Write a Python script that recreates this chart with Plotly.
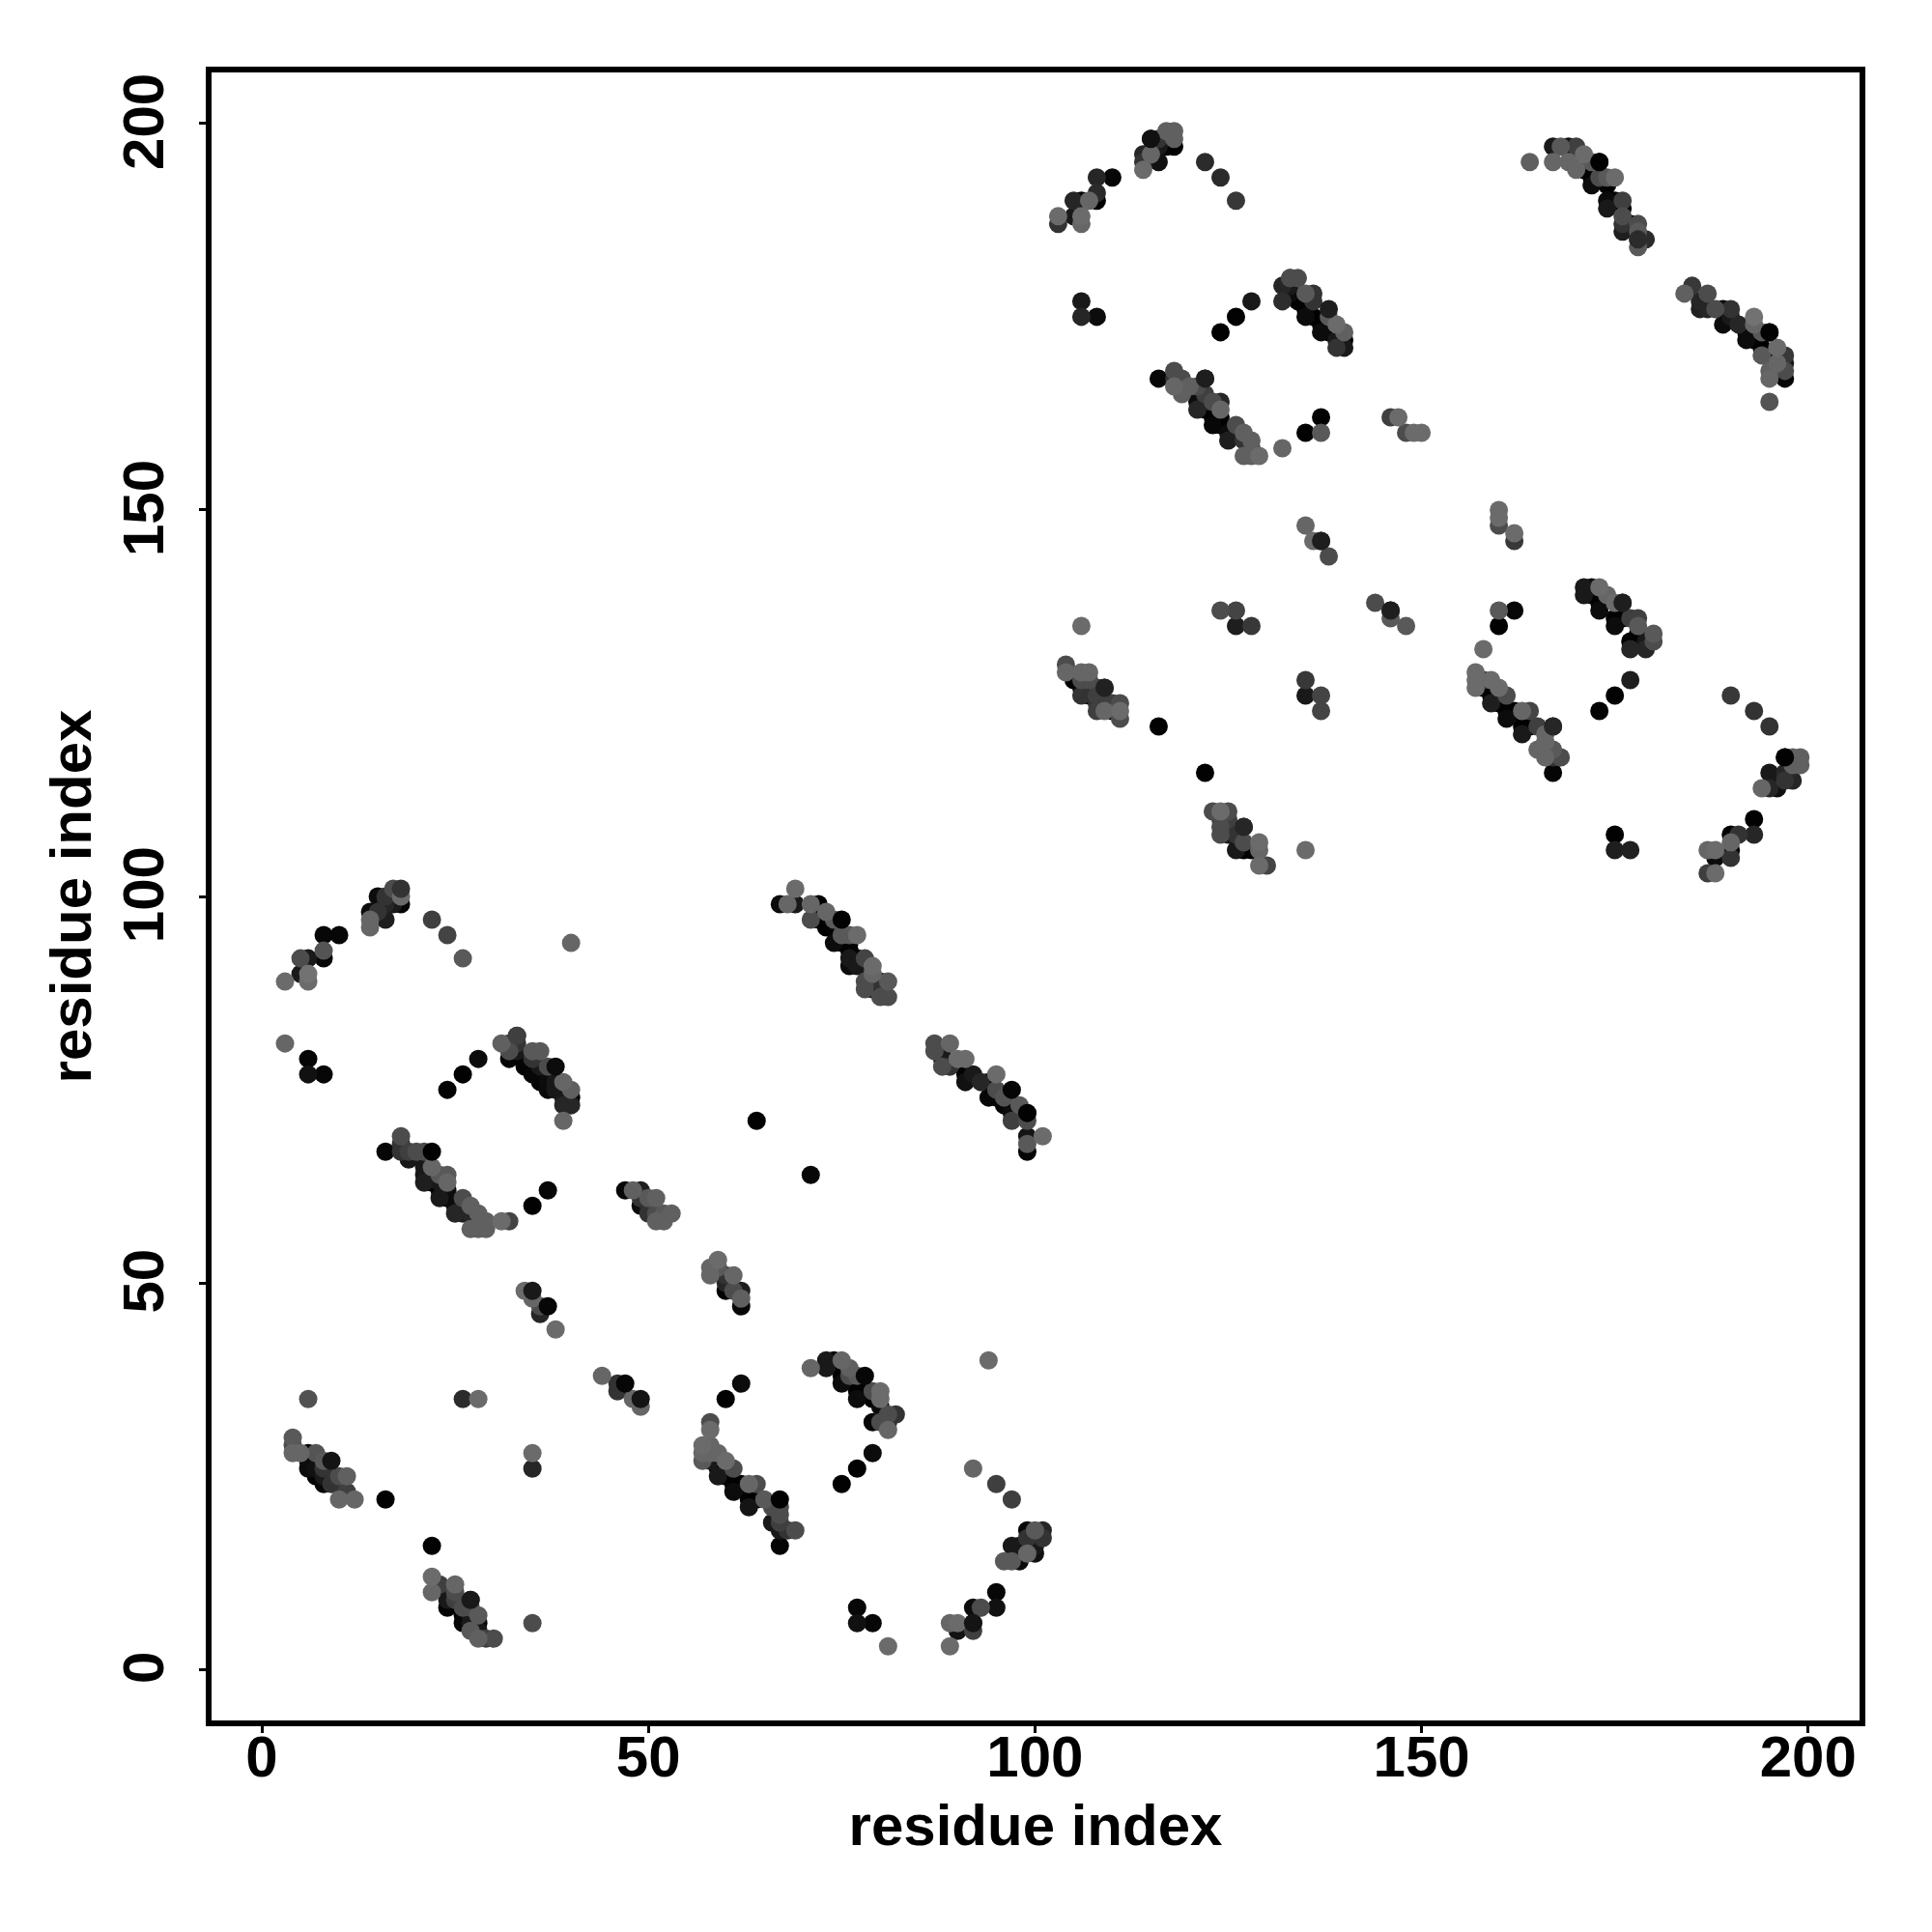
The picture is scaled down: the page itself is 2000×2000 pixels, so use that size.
import numpy as np
import plotly.graph_objects as go

tick_vals = [0, 50, 100, 150, 200]
axis_label = "residue index"

# lower-left domain
x_a = [3,6,6,5,5,6,8,8,8,10, 14,14,14,15,16,16,15,16,17,18,18,17, 22,24,26,40, 3,6,6,8, 24,26,28]
y_a = [89,89,90,90,92,92,92,93,95,95, 96,97,98,98,97,99,100,100,101,100,99,99, 97,95,92,94, 81,79,77,77, 75,77,79]
g_a = [.42,.42,.45,.1,.3,.1,.03,.33,.03,.03, .4,.4,.05,.2,.12,.15,.05,.2,.3,.42,.02,.1, .25,.27,.35,.4, .4,.02,.07,.03, .01,.01,.05]

x_b = [31,33,32,32,32,33,33,34,35,36,35,35,34,36,37,37,36,38,37,39,40,38,39,40,40,39,39,
       16,18,18,19,18,19,20,21,21,22,21,21,22,23,24,24,22,23,23,24,23,24,26,25,25,26,27,28,27,26,27,28,29,29,31,32,35,37]
y_b = [81,82,79,80,81,81,80,79,80,80,79,77,78,78,78,75,76,76,76,76,75,75,73,73,74,74,71,
       67,69,68,66,67,67,67,67,65,65,63,64,64,64,64,63,63,63,61,62,62,61,61,59,60,60,60,59,59,59,57,57,57,58,58,58,60,62]
g_b = [.38,.25,.02,.3,.15,.2,.1,.02,.35,.35,.2,.03,.02,.1,.3,.04,.02,.1,.05,.4,.38,.1,.15,.15,.01,.1,.4,
       .03,.3,.2,.1,.2,.25,.3,.3,.1,.4,.12,.1,.1,.35,.35,.4,.01,.1,.1,.05,.01,.01,.3,.15,.05,.1,.38,.38,.15,.12,.38,.38,.38,.38,.42,.27,.01,.03]

x_c = [47,48,49,49,49,50,51,51,52,53,51,52,50,50, 34,35,36,36,38, 44,46,46,48,49, 6,26,28,35,35]
y_c = [62,62,62,60,61,61,61,58,58,59,59,59,59,60, 49,48,47,46,44, 38,37,36,35,34, 35,35,35,28,26]
g_c = [.03,.38,.12,.05,.2,.35,.38,.38,.38,.38,.3,.35,.2,.15, .42,.4,.3,.15,.42, .4,.2,.2,.4,.4, .32,.17,.42,.42,.15]

x_d = [4,4,4,5,6,7,6,6,7,8,8,7,8,8,9,10,11,10,11,10,12,16, 22,22,23,25,22,24,25,24,25,27,24,26,27,28,26,26,28,27,27,28,29,30,35,27,28]
y_d = [30,29,28,28,28,28,27,26,26,27,26,25,25,24,24,25,25,24,23,22,22,22, 16,12,11,11,10,10,10,9,9,9,8,8,8,7,7,6,6,7,6,4,4,4,6,5,5]
g_d = [.35,.3,.4,.4,.01,.33,.01,.05,.07,.35,.2,.01,.1,.03,.2,.3,.38,.1,.25,.4,.4,.01, .01,.42,.25,.4,.4,.1,.3,.1,.25,.1,.01,.3,.3,.35,.01,.03,.03,.1,.1,.38,.25,.3,.3,.35,.1]

x_e = [69,67,69,68,71,72,71,72,72,73,74,73,74,75,76,77,74,75,76,76,76,76,77,78,79,77,79,78,78,79,80,81,80,81,
       87,89,87,88,88,88,89,90,91,91,91,92,93,94,94,95,95,95,96,96,98,97,97,98,99,99,99,99,99,101, 64,71]
y_e = [101,99,99,99,99,99,97,98,97,98,97,96,96,95,95,95,94,94,94,93,92,91,92,92,91,91,90,89,88,88,89,89,87,87,
       81,81,80,80,79,78,78,79,79,76,77,77,76,76,74,77,75,74,74,73,73,71,72,72,72,71,69,68,67,69, 71,64]
g_e = [.42,.05,.1,.4,.4,.01,.3,.01,.01,.4,.35,.01,.02,.35,.35,.42,.05,.01,.01,.01,.1,.05,.01,.27,.42,.1,.4,.3,.3,.1,.2,.35,.3,.3,
       .3,.4,.3,.07,.1,.3,.2,.42,.42,.07,.01,.1,.15,.01,.03,.42,.3,.01,.33,.03,.35,.25,.05,.05,.3,.3,.08,.35,.02,.42, .01,.03]

x_f = [59,58,58,59,61,60,60,60,62,62,62,61, 71,73,74,73,75,76,75,75,76,77,77,77,78,79,80,80,79,79,80,81,82,81,81,80,79,77,75, 62,60,
       58,58,57,57,57,58,58,59,60,61,58,59,59,60,61,61,62,63,64,63,63,64,65,66,67,67,66,67,68,69,67,67]
y_f = [53,52,51,52,51,51,50,49,49,48,47,49, 39,40,40,39,40,39,37,38,38,38,35,36,36,36,36,35,35,32,32,33,33,32,31,34,28,26,24, 37,35,
       32,31,29,28,27,29,28,28,27,26,27,26,25,25,23,24,24,24,24,21,22,22,22,21,21,20,19,19,18,18,18,16]
g_f = [.42,.4,.4,.35,.4,.2,.15,.01,.12,.38,.03,.3, .4,.1,.01,.1,.4,.38,.05,.01,.3,.35,.05,.01,.01,.3,.42,.42,.01,.03,.3,.3,.2,.1,.4,.05,.05,.01,.01, .05,.01,
       .3,.42,.42,.4,.35,.4,.4,.4,.42,.3,.1,.01,.1,.01,.05,.01,.01,.4,.3,.08,.01,.01,.35,.3,.3,.3,.1,.25,.2,.3,.1,.02]

x_g = [94,92,95,97, 99,100,101,98,97,99,101,100,99,100,98,96,97,99, 95,95,93,92,92,92,90,90,89,89,81,77,77,79]
y_g = [40,26,24,22, 18,18,18,16,16,17,17,16,16,15,14,14,14,15, 10,8,8,8,6,5,5,6,6,3,3,8,6,6]
g_g = [.42,.4,.25,.25, .03,.35,.15,.1,.1,.2,.2,.1,.05,.07,.05,.35,.35,.4, .03,.07,.3,.05,.08,.25,.07,.42,.4,.42,.42,.03,.07,.03]

# upper-right domain
x_h = [103,103,105,106,106,105,106,107,108,108,108,110, 114,114,114,115,116,115,116,116,117,118,118,118,117, 122,124,126, 106,106,108, 124,126,128,
       132,132,133,134,133,133,134,135,136,136,135,135,136,137,137,138,139,140,138,139,140,140,139]
y_h = [188,187,188,188,187,190,190,190,190,191,193,193, 194,195,196,196,195,198,197,198,199,199,198,197,197, 195,193,190, 177,175,175, 173,175,177,
       179,177,180,180,179,178,177,178,178,177,175,176,175,173,174,175,174,173,173,171,171,172,172]
g_h = [.42,.2,.1,.42,.4,.15,.01,.4,.01,.17,.15,.03, .42,.2,.15,.4,.07,.07,.1,.2,.38,.38,.38,.01,.01, .17,.17,.22, .1,.15,.05, .01,.01,.1,
       .15,.18,.3,.3,.1,.05,.01,.35,.2,.2,.05,.01,.01,.05,.01,.35,.42,.38,.01,.2,.1,.01,.1]

x_i = [116,118,119,118,119,118,120,121,122,121,121,122,123,124,124,122,122,123,123,124,124,126,125,125,126,127,128,127,127,128,129,128, 132,135,137,137, 146,147,148,149,150]
y_i = [167,168,167,166,165,167,166,166,167,163,164,165,164,164,163,164,163,161,162,162,161,161,159,160,160,160,159,159,157,157,157,158, 158,160,160,162, 162,162,160,160,160]
g_i = [.03,.3,.3,.4,.38,.2,.38,.3,.12,.15,.05,.25,.3,.15,.4,.1,.01,.03,.01,.01,.01,.3,.12,.05,.05,.38,.38,.2,.38,.38,.42,.25, .4,.01,.35,.01, .25,.42,.3,.42,.42]

x_j = [164,167,167,168,169,170,169,170,171,170,172,173,171,172,172,173,174,175,174,174,174,175,176,176,176,176,176,177,178,178,178,179,178,
       184,185,186,186,187,187,188,189,189,190,190,191,192,192,193,193,193,194,195,194,194,196,195,195,195,196,197,197,197,197,195]
y_j = [195,195,197,197,197,197,195,194,196,195,195,195,194,192,193,193,193,193,192,189,190,190,190,189,188,186,187,187,187,186,184,185,185,
       178,179,176,177,178,176,176,174,176,176,175,174,172,173,175,174,172,173,173,170,171,171,170,167,168,169,170,169,168,167,164]
g_j = [.38,.4,.1,.35,.07,.25,.4,.4,.42,.01,.35,.01,.01,.05,.01,.3,.35,.42,.01,.1,.05,.01,.25,.01,.3,.12,.2,.01,.3,.35,.35,.17,.3,
       .38,.22,.13,.15,.3,.15,.3,.05,.01,.2,.1,.15,.05,.01,.45,.4,.01,.35,.01,.35,.01,.42,.01,.4,.38,.4,.22,.1,.3,.02,.33]

x_k = [135,136,137,138, 144,146,146,148, 106, 124,126,126,128, 135,135,137,137,
       104,104,106,107,105,106,107,109,108,106,106,107,108,108,109,110,111,108,110,111,111,116,122,
       123,124,125,124,125,124,124,125,127,126,126,127,128,127,129,129,129,130,135]
y_k = [148,146,146,144, 138,137,136,135, 135, 137,137,135,135, 128,126,126,124,
       130,129,129,129,128,128,128,127,127,126,127,126,126,124,124,125,125,125,124,124,123,122,116,
       111,111,111,110,110,109,108,108,109,108,106,107,106,106,107,106,104,104,106]
g_k = [.4,.42,.12,.3, .3,.12,.35,.35, .42, .3,.27,.12,.22, .22,.1,.27,.27,
       .3,.4,.4,.4,.01,.3,.3,.13,.2,.2,.01,.01,.25,.25,.4,.25,.3,.2,.01,.42,.3,.01,.01,
       .3,.42,.3,.2,.25,.3,.3,.1,.15,.2,.1,.3,.01,.01,.42,.4,.42,.27,.42]

x_l = [160,160,160,162,162, 160,162,160, 158, 171,172,173,171,172,174,175,173,173,176,175,175,176,177,178,178,180,180,177,179,179,177,178, 177,175,173,
       157,157,157,158,159,160,161,158,159,159,160,161,161,162,163,164,163,163,164,165,166,167,165,166,166,166,167,168,167,167,
       190,193,195, 197,198,199,198,199,195,197,198,196,194,195,196,197, 193,193,191,190,190,190,190,188,188,187,187,188, 175,175,177]
y_l = [150,149,148,147,146, 137,137,135, 132, 140,140,140,139,139,139,138,137,138,138,135,136,136,136,136,135,134,133,132,132,133,133,134, 128,126,124,
       129,128,127,128,128,127,126,127,126,125,125,123,124,124,124,124,121,122,122,122,121,122,119,120,119,118,119,118,118,116,
       126,124,122, 118,118,118,117,117,116,116,115,115,114,114,114,115, 110,108,108,108,107,106,105,105,106,106,103,103, 108,106,106]
g_l = [.42,.42,.3,.42,.22, .35,.03,.01, .42, .1,.05,.42,.1,.01,.4,.42,.05,.01,.12,.05,.01,.01,.25,.25,.35,.35,.3,.15,.15,.1,.01,.01, .12,.01,.01,
       .42,.42,.42,.2,.42,.42,.3,.01,.01,.12,.01,.05,.01,.01,.4,.27,.1,.01,.01,.25,.4,.15,.4,.4,.05,.4,.35,.3,.2,.02,
       .22,.2,.2, .01,.38,.38,.38,.38,.1,.15,.15,.07,.4,.15,.07,.2, .01,.15,.2,.01,.4,.01,.2,.05,.42,.4,.25,.42, .01,.12,.13]

# dark points that sit on top of the lighter ones
x_top = [38,22,9,27,35,37,47,49,75,97,99,78,67,92,18, 138,122,173,195,146,137,109,127,176,167,197,33,115,178,133]
y_top = [78,67,27,9,49,47,37,35,97,75,72,38,22,6,101, 176,167,195,173,137,146,127,109,138,122,118,82,198,185,180]
g_top = [.05,.01,.08,.1,.1,.03,.03,.08,.01,.02,.01,.03,.01,.08,.2, .12,.12,.01,.01,.12,.12,.13,.15,.12,.15,.01,.25,.07,.17,.3]

xs = np.array(x_a + x_b + x_c + x_d + x_e + x_f + x_g + x_h + x_i + x_j + x_k + x_l)
ys = np.array(y_a + y_b + y_c + y_d + y_e + y_f + y_g + y_h + y_i + y_j + y_k + y_l)
gs = np.array(g_a + g_b + g_c + g_d + g_e + g_f + g_g + g_h + g_i + g_j + g_k + g_l)
order = np.argsort(gs, kind="stable")


def gray(values):
    return [f"rgb({int(v * 255)},{int(v * 255)},{int(v * 255)})" for v in values]


MARKER = 19
fig = go.Figure()
fig.add_trace(go.Scatter(x=xs[order], y=ys[order], mode="markers", showlegend=False,
                         marker=dict(size=MARKER, color=gray(gs[order]), line=dict(width=0))))
fig.add_trace(go.Scatter(x=x_top, y=y_top, mode="markers", showlegend=False,
                         marker=dict(size=MARKER, color=gray(g_top), line=dict(width=0))))

font = dict(family="Liberation Sans", size=60, color="black", weight="bold")
axis = dict(showline=True, mirror=True, linewidth=5.5, linecolor="black", showgrid=False, zeroline=False,
            ticks="outside", ticklen=7, tickwidth=3, tickcolor="black", tickfont=font,
            tickmode="array", tickvals=tick_vals, ticktext=[str(v) for v in tick_vals])
OFF = 8
fig.update_layout(width=2000, height=2000, autosize=False, paper_bgcolor="white", plot_bgcolor="white",
                  margin=dict(l=219 - OFF, r=2000 - 1925.25 + OFF, t=74.5 - OFF, b=2000 - 1781 + OFF, pad=0))
fig.update_xaxes(**axis, range=[-6.5, 206.65], ticklabelstandoff=-27,
                 title=dict(text=axis_label, font=font, standoff=19))
fig.update_yaxes(**axis, range=[-6.58, 206.6], tickangle=-90, ticklabelstandoff=13, ticklabelshift=7,
                 title=dict(text=axis_label, font=font, standoff=3))
fig.write_html("out.html")
